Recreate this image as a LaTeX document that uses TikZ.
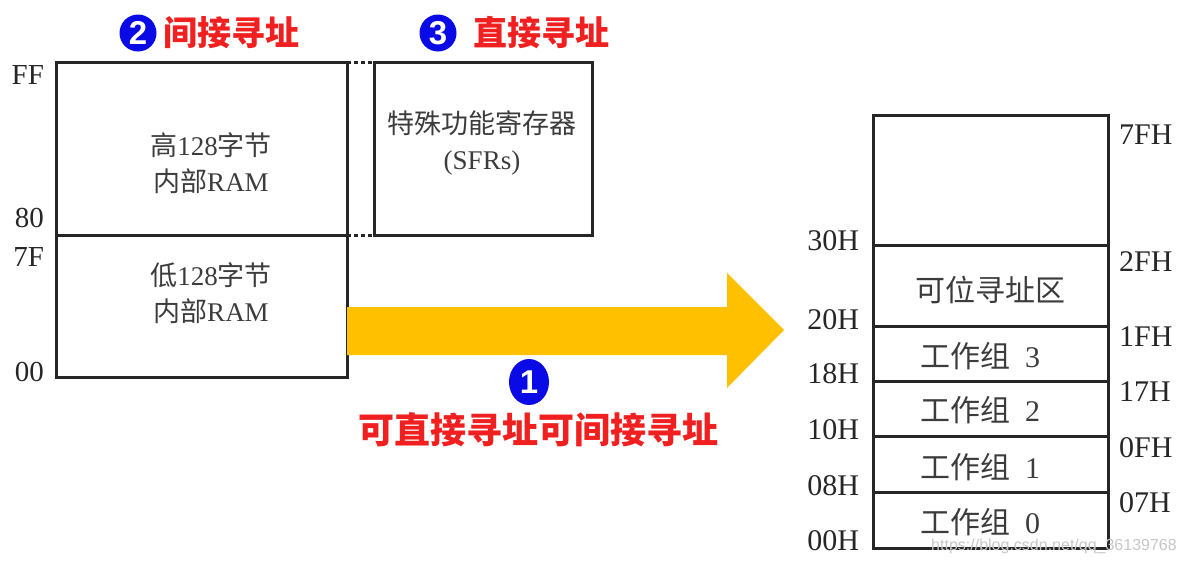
\documentclass[tikz,border=0pt]{standalone}
\usepackage{fontspec}
\setmainfont{Liberation Serif}
\newfontfamily\cjk{Noto Sans CJK SC}
\newfontfamily\numfont{Liberation Sans}
\newcommand{\zh}[1]{{\cjk #1}}
\usetikzlibrary{shapes.geometric}
\definecolor{arrowyellow}{HTML}{FFC000}
\definecolor{markblue}{HTML}{0A0AE6}
\definecolor{markred}{HTML}{F02020}
\definecolor{textgray}{HTML}{3C3C3C}

\begin{document}
\begin{tikzpicture}
  [x=0.5pt, y=-0.5pt]
  \tikzstyle{frame} = [draw=black!85, line width=1.5pt];
  \tikzstyle{dots} = [frame, dash pattern=on 2pt off 1.5pt];
  \tikzstyle{addr} = [font=\fontsize{14.5}{14.5}\selectfont, text=black!85];
  \tikzstyle{addr_big} = [font=\fontsize{15}{15}\selectfont, text=black!85];
  \tikzstyle{cell} = [font=\fontsize{13.5}{18}\selectfont, text=textgray, align=center];
  \tikzstyle{cell_big} = [font=\fontsize{15}{15}\selectfont, text=textgray];
  \tikzstyle{num_mark} = [circle, fill=markblue, text=white, inner sep=0pt, minimum size=18.5pt, font=\numfont\bfseries\fontsize{16.5}{16.5}\selectfont];
  \tikzstyle{title} = [text=markred, font=\cjk\bfseries\fontsize{17}{17}\selectfont];

  \useasboundingbox (0,0) rectangle (1188,562);

  % internal RAM and SFRs
  \draw[frame] (56,62) rectangle (347,377);
  \draw[frame] (56,235) -- (347,235);
  \draw[frame] (374,62) rectangle (592,235);
  \draw[dots] (347,62) -- (374,62);
  \draw[dots] (347,235) -- (374,235);

  \node[cell] (high) at (211,163) {\zh{高}128\zh{字节}\\\zh{内部}RAM};
  \node[cell] (low)  at (211,293) {\zh{低}128\zh{字节}\\\zh{内部}RAM};
  \node[cell] (sfr)  at (482,143) {\zh{特殊功能寄存器}\\(SFRs)};

  \node[addr, anchor=east] (aFF) at (51,75)  {FF};
  \node[addr, anchor=east] (a80) at (51,218) {80};
  \node[addr, anchor=east] (a7F) at (51,257) {7F};
  \node[addr, anchor=east] (a00) at (51,372) {00};

  % titles
  \node[num_mark]  (m2) at (138,33) {2};
  \node[title, anchor=west] (t2) at (156,33) {间接寻址};
  \node[num_mark]  (m3) at (438,33) {3};
  \node[title, anchor=west] (t3) at (466,33) {直接寻址};

  % big arrow
  \fill[arrowyellow] (347,307) -- (727,307) -- (727,273) -- (784,330)
    -- (727,388) -- (727,355) -- (347,355) -- cycle;
  \node[num_mark, ellipse, minimum width=20pt, minimum height=23pt] (m1) at (529,382) {1};
  \node[title, font=\cjk\bfseries\fontsize{18}{18}\selectfont] (t1) at (538,430) {可直接寻址可间接寻址};

  % low 128 bytes
  \draw[frame] (873,115) rectangle (1108,548);
  \draw[frame] (873,245) -- (1108,245);
  \draw[frame] (873,326) -- (1108,326);
  \draw[frame] (873,381) -- (1108,381);
  \draw[frame] (873,436) -- (1108,436);
  \draw[frame] (873,492) -- (1108,492);

  \node[cell_big] (bit)   at (990,290) {\zh{可位寻址区}};
  \node[cell_big] (bank3) at (980,356) {\zh{工作组}\ \ 3};
  \node[cell_big] (bank2) at (980,410) {\zh{工作组}\ \ 2};
  \node[cell_big] (bank1) at (980,467) {\zh{工作组}\ \ 1};
  \node[cell_big] (bank0) at (980,522) {\zh{工作组}\ \ 0};

  \node[addr_big, anchor=east] (a30H) at (866,241) {30H};
  \node[addr_big, anchor=east] (a20H) at (866,320) {20H};
  \node[addr_big, anchor=east] (a18H) at (866,374) {18H};
  \node[addr_big, anchor=east] (a10H) at (866,430) {10H};
  \node[addr_big, anchor=east] (a08H) at (866,486) {08H};
  \node[addr_big, anchor=east] (a00H) at (866,541) {00H};

  \node[addr_big, anchor=west] (a7FH) at (1112,135) {7FH};
  \node[addr_big, anchor=west] (a2FH) at (1112,262) {2FH};
  \node[addr_big, anchor=west] (a1FH) at (1112,337) {1FH};
  \node[addr_big, anchor=west] (a17H) at (1112,392) {17H};
  \node[addr_big, anchor=west] (a0FH) at (1112,448) {0FH};
  \node[addr_big, anchor=west] (a07H) at (1112,503) {07H};

  \node[text=black!22, inner sep=0pt, font=\numfont\fontsize{8}{8}\selectfont] (wm) at (1054,546) {https://blog.csdn.net/qq\_36139768};

\end{tikzpicture}
\end{document}
